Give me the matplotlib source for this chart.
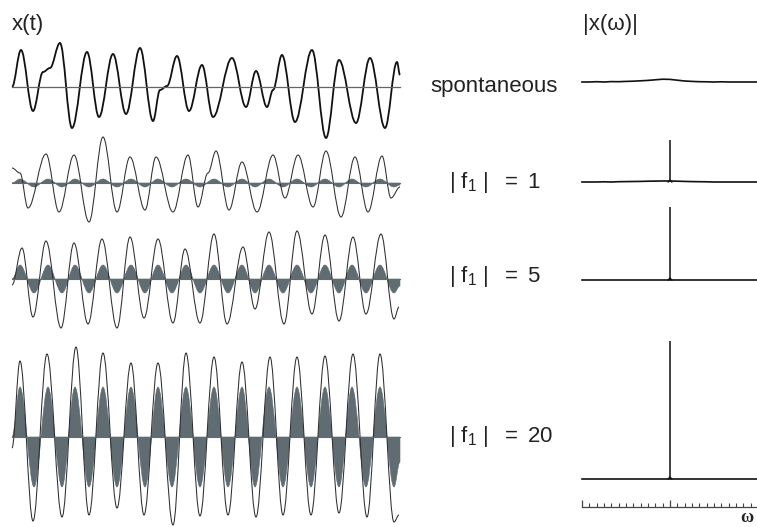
import numpy as np
import matplotlib
matplotlib.use("Agg")
import matplotlib.pyplot as plt
from matplotlib.path import Path
from matplotlib.patches import PathPatch

plt.rcParams['font.family'] = ['Liberation Sans', 'DejaVu Sans']
plt.rcParams['mathtext.fontset'] = 'custom'
plt.rcParams['mathtext.rm'] = 'Liberation Sans'
plt.rcParams['mathtext.it'] = 'Liberation Sans'

W, H = 757, 527

# extrema of each response x(t): time (trace units) and value
spont_t = [0, 9, 21, 31, 38, 48, 60, 75, 87, 101, 114, 128, 141, 148, 155, 165, 177, 190, 201,
           220, 234, 244, 255, 261, 270, 283, 300, 314, 327, 344, 358, 373, 385, 388]
spont_v = [0, 37, -24, 15, 19, 44, -41, 35, -30, 33, -27, 39, -34, -3, 1, 31, -24, 22, -30,
           29, -20, 16, -20, -3, 32, -35, 37, -51, 27, -36, 29, -41, 25, 12]

f1_t = [0, 8, 16, 34, 47, 62, 77, 91, 105, 118, 133, 144, 161, 176, 186, 196, 204, 217, 230,
        245, 261, 273, 286, 301, 314, 329, 343, 356, 370, 379, 388]
f1_v = [15, 10, -25, 29, -29, 28, -39, 46, -29, 26, -27, 26, -29, 28, -24, 10, 32, -27, 21,
        -29, 28, -15, 28, -24, 32, -34, 26, -29, 27, -15, -4]

f5_t = [0, 10, 21, 34, 49, 62, 76, 90, 105, 118, 132, 146, 161, 173, 188, 202, 215, 231, 243,
        257, 272, 285, 300, 313, 327, 341, 354, 369, 382, 387]
f5_v = [-6, 31, -38, 38, -49, 36, -45, 40, -49, 42, -39, 40, -44, 30, -44, 45, -45, 32, -30,
        47, -45, 48, -35, 44, -42, 42, -35, 45, -40, -28]

f20_t = [0, 8, 21, 35, 50, 64, 77, 91, 105, 119, 132, 146, 161, 174, 188, 202, 216, 230, 244,
         258, 271, 285, 299, 313, 327, 341, 355, 368, 382, 387]
f20_v = [-11, 76, -84, 83, -80, 90, -78, 84, -71, 74, -78, 74, -88, 84, -79, 80, -78, 75, -80,
         80, -78, 80, -78, 81, -76, 83, -80, 83, -85, -78]

# forcing f1(t): extrema times and unit shape, amplitude per row
force_t = [0, 8, 22, 36, 50, 63, 77, 91, 105, 119, 133, 146, 160, 174, 188, 202, 216, 230, 243,
           257, 271, 285, 299, 313, 327, 340, 354, 368, 382, 388]
force_shape = [0, 1, -1, 1, -1, 1, -1, 1, -1, 1, -1, 1, -1, 1, -1, 1, -1, 1, -1,
               1, -1, 1, -1, 1, -1, 1, -1, 1, -1, -0.5]
force_amp = [0, 4, 14, 50]

# spectra |x(w)|
spec_freq = list(range(-12, 13))
spec_spont = [0, 0, 0.3, 0, 0.4, 0.3, 0.6, 0.8, 1.2, 1.6, 2.2, 2.8, 2.6, 1.8, 1.0, 0.6, 0.3,
              0.2, 0, 0.2, 0, 0, 0, 0, 0]
spec_f1 = [0, 0, 0, 0.2, 0, 0.3, 0.4, 0.5, 0.6, 0.8, 0.9, 1.0, 1.0, 0.8, 0.6, 0.4, 0.3, 0.2,
           0, 0, 0, 0, 0, 0, 0]
spec_f5 = [0] * 25
spec_f20 = [0] * 25
spike_heights = [0, 42, 73, 138]

row_labels = ['spontaneous',
              r'$\mathregular{|\ f_1\ |\ \ =\ 1}$',
              r'$\mathregular{|\ f_1\ |\ \ =\ 5}$',
              r'$\mathregular{|\ f_1\ |\ \ =\ 20}$']

responses = [(spont_t, spont_v), (f1_t, f1_v), (f5_t, f5_v), (f20_t, f20_v)]
spectra = [spec_spont, spec_f1, spec_f5, spec_f20]

# layout (pixels)
trace_base = [87, 183, 279, 437]
spec_base = [82, 182, 280, 479]
label_base = [92, 188, 282, 442]
label_x = [430, 449, 449, 449]


def px_axes(fig, x0, y0, x1, y1):
    ax = fig.add_axes([x0 / W, 1 - y1 / H, (x1 - x0) / W, (y1 - y0) / H])
    ax.axis('off')
    return ax


def smooth_path(t, v, close_to_zero=False):
    # cubic bezier through extrema with flat tangents
    verts = [(t[0], v[0])]
    codes = [Path.MOVETO]
    for i in range(len(t) - 1):
        dt = t[i + 1] - t[i]
        verts += [(t[i] + 0.364 * dt, v[i]), (t[i + 1] - 0.364 * dt, v[i + 1]), (t[i + 1], v[i + 1])]
        codes += [Path.CURVE4] * 3
    if close_to_zero:
        verts += [(t[-1], 0), (t[0], 0), (t[0], 0)]
        codes += [Path.LINETO, Path.LINETO, Path.CLOSEPOLY]
    return Path(verts, codes)


fig = plt.figure(figsize=(W / 100, H / 100), dpi=100)

for i in range(4):
    base = trace_base[i]
    ax = px_axes(fig, 12, base - 100, 400, base + 100)
    ax.set_xlim(0, 388)
    ax.set_ylim(-100, 100)
    if force_amp[i] > 0:
        fv = [s * force_amp[i] for s in force_shape]
        ax.add_patch(PathPatch(smooth_path(force_t, fv, True), facecolor='#5f6c72',
                               edgecolor='#5f6c72', lw=0.4, clip_on=False))
        ax.plot([0, 388], [0, 0], color='#5f6c72', lw=0.8, clip_on=False)
        ax.add_patch(PathPatch(smooth_path(*responses[i]), facecolor='none',
                               edgecolor='#2e2e2e', lw=0.75, clip_on=False))
    else:
        ax.plot([0, 388], [0, 0], color='#5a676d', lw=0.9, clip_on=False)
        ax.add_patch(PathPatch(smooth_path(*responses[i]), facecolor='none',
                               edgecolor='#111111', lw=1.3, clip_on=False))

    sb = spec_base[i]
    axs = px_axes(fig, 582, sb - 150, 758, sb + 10)
    axs.set_xlim(-12, 12)
    axs.set_ylim(-10, 150)
    axs.plot(spec_freq, spectra[i], color='#111111', lw=1.2, clip_on=False)
    if spike_heights[i] > 0:
        axs.vlines(0, 0, spike_heights[i], color='#111111', lw=1.1)
        axs.plot([-0.25, 0, 0.25], [0, 2, 0], color='#111111', lw=1.0)

    fig.text(label_x[i] / W, 1 - label_base[i] / H, row_labels[i], fontsize=16,
             ha='left', va='baseline', color='#222222')

fig.text(12 / W, 1 - 30 / H, 'x(t)', fontsize=16, ha='left', va='baseline', color='#222222')
fig.text(583 / W, 1 - 30 / H, '|x(\u03c9)|', fontsize=16, ha='left', va='baseline', color='#222222')

# frequency axis
axw = fig.add_axes([582 / W, 1 - 507 / H, 176 / W, 0.02])
axw.set_xlim(-12, 12)
axw.set_ylim(0, 1)
for s in ['top', 'left', 'right']:
    axw.spines[s].set_visible(False)
axw.spines['bottom'].set_color('#444444')
axw.spines['bottom'].set_linewidth(0.9)
axw.patch.set_visible(False)
axw.set_yticks([])
axw.set_xticks([-12, 0, 12])
axw.set_xticks(range(-12, 13), minor=True)
axw.set_xticklabels([])
axw.tick_params(axis='x', which='major', direction='in', length=5, width=0.9, color='#444444')
axw.tick_params(axis='x', which='minor', direction='in', length=3, width=0.8, color='#444444')
fig.text(747 / W, 1 - 517 / H, '\u03c9', fontsize=13, family='Liberation Serif',
         fontweight='bold', ha='center', va='center', color='#222222')

fig.savefig('out.png', dpi=100)
